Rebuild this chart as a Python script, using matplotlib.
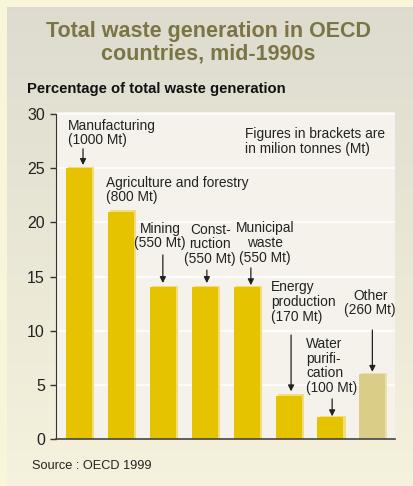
import numpy as np
import matplotlib
matplotlib.use("Agg")
import matplotlib.pyplot as plt

# ---- data ----
categories = ["Manufacturing", "Agriculture and forestry", "Mining", "Construction",
              "Municipal waste", "Energy production", "Water purification", "Other"]
tonnes_mt = [1000, 800, 550, 550, 550, 170, 100, 260]
share_pct = [25, 21, 14, 14, 14, 4, 2, 6]
bar_labels = ["Manufacturing\n(1000 Mt)", "Agriculture and forestry\n(800 Mt)",
              "Mining\n(550 Mt)", "Const-\nruction\n(550 Mt)", "Municipal\nwaste\n(550 Mt)",
              "Energy\nproduction\n(170 Mt)", "Water\npurifi-\ncation\n(100 Mt)",
              "Other\n(260 Mt)"]
y_ticks = [0, 5, 10, 15, 20, 25, 30]

plt.rcParams['font.family'] = ['Liberation Sans', 'DejaVu Sans']

W, H = 413, 486
fig = plt.figure(figsize=(W / 100, H / 100), dpi=100)
fig.patch.set_facecolor('#f8f5d8')

# background panel with a vertical gradient
bg = fig.add_axes([7 / W, 0, 1 - 7 / W, 1 - 7 / H])
top_c = np.array([0.868, 0.862, 0.812])
bot_c = np.array([0.962, 0.947, 0.864])
t = np.linspace(0, 1, 256)[:, None]
grad = top_c * (1 - t[..., None]) + bot_c * t[..., None]
bg.imshow(grad, aspect='auto', extent=[0, 1, 0, 1])
bg.set_axis_off()

# main axes
x0, x1 = 56, 395
y0, y1 = 439, 112
ax = fig.add_axes([x0 / W, (H - y0) / H, (x1 - x0) / W, (y0 - y1) / H])
ax.set_facecolor('#f4f2ea')

x = np.arange(len(categories))
colors = ['#e6c300'] * 7 + ['#d9cd88']
light = ['#f3dc7c'] * 7 + ['#ebe1a8']
ax.bar(x + 0.05, np.array(share_pct) + 0.12, width=0.62, color=light, zorder=2)
ax.bar(x, share_pct, width=0.62, color=colors, zorder=3)

ax.set_xlim(-0.55, 7.54)
ax.set_ylim(0, 30.2)
ax.set_yticks(y_ticks)
ax.tick_params(axis='y', length=4, width=1, color='#333333', labelsize=11.5,
               labelcolor='#222222', pad=4)
ax.set_xticks([])
ax.grid(axis='y', color='white', lw=1.2, zorder=1)
ax.set_axisbelow(True)
for s in ['top', 'right']:
    ax.spines[s].set_visible(False)
ax.spines['left'].set_bounds(0, 30)
ax.spines['left'].set_color('#333333')
ax.spines['bottom'].set_color('#444444')
ax.spines['bottom'].set_linewidth(1.2)
ax.spines['bottom'].set_zorder(4)

# label placement (data coords) and arrows (x, start, end)
label_pos = [(-0.263, 28.25, 'left'), (0.644, 22.99, 'left'), (1.93, 18.74, 'center'),
             (3.13, 18.0, 'center'), (4.44, 18.1, 'center'), (4.58, 12.65, 'left'),
             (5.42, 6.74, 'left'), (6.95, 12.56, 'center')]
arrows = [(0.095, 26.8, 25.3), None, (2.0, 17.0, 14.4), (3.05, 15.6, 14.4),
          (4.1, 15.8, 14.2), (5.06, 9.6, 4.4), (6.04, 3.7, 2.1), (7.0, 10.06, 6.2)]

for lab, (tx, ty, ha), arr in zip(bar_labels, label_pos, arrows):
    ax.text(tx, ty, lab, ha=ha, va='center', fontsize=9.9, color='#222222',
            linespacing=1.05, zorder=5)
    if arr:
        ax.annotate('', xy=(arr[0], arr[2]), xytext=(arr[0], arr[1]),
                    arrowprops=dict(arrowstyle='-|>', color='#222222', lw=0.9,
                                    mutation_scale=9, shrinkA=0, shrinkB=0),
                    zorder=5)

ax.text(3.96, 27.5, "Figures in brackets are\nin milion tonnes (Mt)", ha='left',
        va='center', fontsize=9.9, color='#222222', linespacing=1.05)

fig.text(208 / W, 1 - 43 / H, "Total waste generation in OECD\ncountries, mid-1990s",
         ha='center', va='center', fontsize=15.5, fontweight='bold', color='#7b7545',
         linespacing=1.08)
fig.text(27 / W, 1 - 89 / H, "Percentage of total waste generation", ha='left',
         va='center', fontsize=10.7, fontweight='bold', color='#111111')
fig.text(32 / W, 1 - 466 / H, "Source : OECD 1999", ha='left', va='center',
         fontsize=9.2, color='#222222')

fig.savefig('out.png', dpi=100, facecolor=fig.get_facecolor())
